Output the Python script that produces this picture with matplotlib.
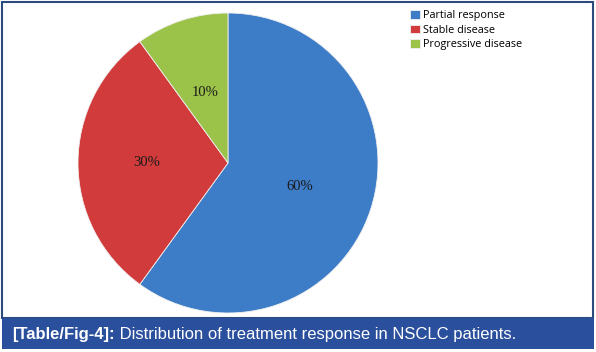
import matplotlib.pyplot as plt
from matplotlib.patches import Rectangle

labels = ['Partial response', 'Stable disease', 'Progressive disease']
values = [60, 30, 10]
colors = ['#3d7cc6', '#d13b3b', '#9bc34a']
caption_bold = '[Table/Fig-4]:'
caption_text = ' Distribution of treatment response in NSCLC patients.'

W, H = 596, 352
fig = plt.figure(figsize=(W / 100, H / 100), dpi=100)
fig.patch.set_facecolor('white')

# outer frame and caption bar
fig.patches.append(Rectangle((2 / W, 1 - 318 / H), 591 / W, 316 / H, transform=fig.transFigure,
                             fill=False, edgecolor='#2c4a7c', linewidth=1.5))
fig.patches.append(Rectangle((2 / W, 1 - 349 / H), 592 / W, 31 / H, transform=fig.transFigure,
                             facecolor='#2a4f9c', edgecolor='none'))

cx, cy, r = 228, 163, 150
ax = fig.add_axes([(cx - r) / W, 1 - (cy + r) / H, 2 * r / W, 2 * r / H])
wedges, texts = ax.pie(values, colors=colors, startangle=90, counterclock=False,
                       radius=1, wedgeprops=dict(linewidth=0.6, edgecolor='#f0f0f0'))
ax.set_xlim(-1, 1)
ax.set_ylim(-1, 1)
ax.set_aspect('equal')
ax.axis('off')

# percentage labels
label_pos = [(0.48, -0.16), (-0.54, 0.0), (-0.15, 0.47)]
for (x, y), v in zip(label_pos, values):
    ax.text(x, y, f'{v}%', ha='center', va='center', fontsize=10.5,
            family='Liberation Serif', color='#1a1a1a')

fig.legend(wedges, labels, loc='upper left', bbox_to_anchor=(406 / W, 1 - 6 / H),
           frameon=False, handlelength=0.85, handleheight=0.85,
           handletextpad=0.3, labelspacing=0.3, borderaxespad=0,
           prop={'family': 'Open Sans', 'size': 7.8})

t1 = fig.text(12 / W, 1 - 334 / H, caption_bold, color='white', fontsize=12,
              fontweight='bold', family='Liberation Sans', va='center')
fig.canvas.draw()
bb = t1.get_window_extent()
fig.text(bb.x1 / W, 1 - 334 / H, caption_text, color='white', fontsize=12,
         family='Liberation Sans', va='center')

fig.savefig('out.png', dpi=100)
